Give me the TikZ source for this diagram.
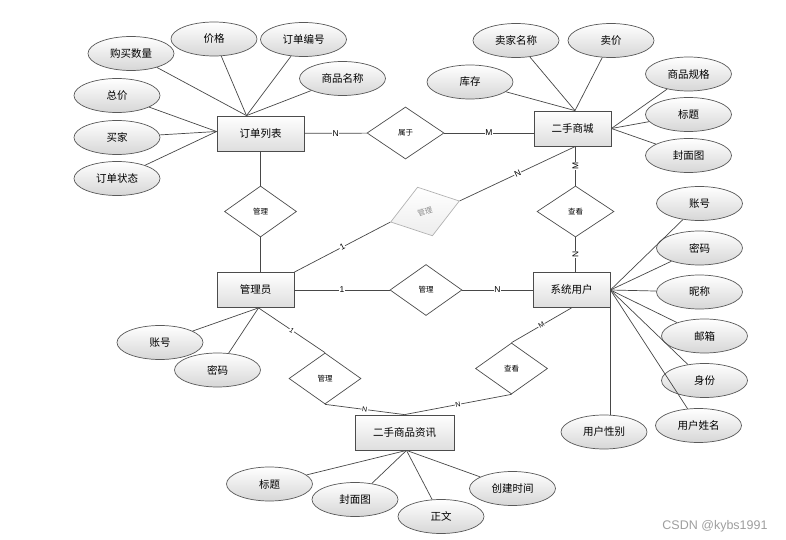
\documentclass[tikz,border=0pt]{standalone}
\usepackage{fontspec}
\setmainfont{Noto Sans CJK SC}
\newfontfamily\latf{Liberation Sans}
\usetikzlibrary{shapes.geometric,calc}
\begin{document}
\begin{tikzpicture}[x=1pt,y=-1pt,
  conn/.style={draw=black!72, line width=0.7pt},
  entity/.style={draw=black!70, line width=0.8pt, top color=white, bottom color=black!13,
    minimum width=77pt, minimum height=35pt, inner sep=0pt, font=\fontsize{10.5}{12}\selectfont},
  attr/.style={ellipse, draw=black!65, line width=0.7pt, top color=white, bottom color=black!16,
    minimum width=86pt, minimum height=34pt, inner sep=0pt, font=\fontsize{10.5}{12}\selectfont},
  rel/.style={diamond, draw=black!70, line width=0.7pt, fill=white,
    minimum width=72pt, minimum height=51pt, inner sep=0pt, font=\fontsize{7.5}{9}\selectfont},
  card/.style={fill=white, inner sep=0.6pt, font=\latf\fontsize{8.5}{9}\selectfont}
]
\useasboundingbox (0,0) rectangle (786,540);

% entities
\node[entity, minimum width=87pt] (ddl) at (260.5,133.5) {订单列表};
\node[entity] (sc) at (572.5,128.5) {二手商城};
\node[entity] (gly) at (255.5,290) {管理员};
\node[entity] (xt) at (571.5,290) {系统用户};
\node[entity, minimum width=99pt] (zx) at (404.5,432.5) {二手商品资讯};

% relations
\node[rel, minimum width=77pt, minimum height=52pt] (sy) at (405.5,133) {属于};
\node[rel] (gl1) at (260.5,211.5) {管理};
\node[rel, draw=black!30, top color=white, bottom color=black!7, text=black!45, rotate=17] (gl2) at (425,211.5) {管理};
\node[rel] (gl3) at (426,290) {管理};
\node[rel, minimum width=77pt] (ck1) at (575.5,211.5) {查看};
\node[rel] (gl4) at (325,378.5) {管理};
\node[rel] (ck2) at (511.5,368.5) {查看};

% relation connectors
\draw[conn] (ddl) -- node[card]{N} (sy);
\draw[conn] (sy.east) -- node[card]{M} (sy.east -| sc.west);
\draw[conn] (ddl) -- (gl1);
\draw[conn] (gl1) -- (gl1 |- gly.north);
\draw[conn] (gly) -- node[card]{1} (gl3);
\draw[conn] (gl3) -- node[card]{N} (xt);
\draw[conn] (sc.south -| ck1) -- node[card, rotate=90]{M} (ck1.north);
\draw[conn] (ck1.south) -- node[card, rotate=90]{N} (ck1.south |- xt.north);
\draw[conn] (sc.south -| ck1) -- node[card, sloped]{N} (gl2.east);
\draw[conn] (gl2.west) -- node[card, sloped]{1} (gly.north east);
\coordinate (glyB) at ($(gly.south)+(3,0)$);
\draw[conn] (glyB) -- node[card, sloped, font=\latf\fontsize{7}{8}\selectfont]{1} (gl4.north);
\draw[conn] (ck2.north) -- node[card, sloped, font=\latf\fontsize{7}{8}\selectfont]{M} (xt.south);
\draw[conn] (gl4.south) -- node[card, sloped, font=\latf\fontsize{7}{8}\selectfont]{N} (zx.north);
\draw[conn] (ck2.south) -- node[card, sloped, font=\latf\fontsize{7}{8}\selectfont]{N} (zx.north);

% attributes of 订单列表
\node[attr] (a1) at (131,53.5) {购买数量};
\node[attr] (a2) at (214,39) {价格};
\node[attr] (a3) at (303.5,39.5) {订单编号};
\node[attr] (a4) at (342.5,78.5) {商品名称};
\node[attr] (a5) at (117,95.5) {总价};
\node[attr] (a6) at (117,137.5) {买家};
\node[attr] (a7) at (117,178.5) {订单状态};
\coordinate (ddlT) at ($(ddl.north)+(-14,0)$);
\coordinate (ddlL) at ($(ddl.west)+(0,-2)$);
\foreach \n in {a1,a2,a3,a4} \draw[conn] (\n) -- (ddlT);
\foreach \n in {a5,a6,a7} \draw[conn] (\n) -- (ddlL);

% attributes of 二手商城
\node[attr] (b1) at (516,40.5) {卖家名称};
\node[attr] (b2) at (611,40.5) {卖价};
\node[attr] (b3) at (470,82) {库存};
\node[attr] (b4) at (688.5,74) {商品规格};
\node[attr] (b5) at (688.5,114.5) {标题};
\node[attr] (b6) at (688.5,155.5) {封面图};
\coordinate (scT) at ($(sc.north)+(2.5,0)$);
\foreach \n in {b1,b2,b3} \draw[conn] (\n) -- (scT);
\foreach \n in {b4,b5,b6} \draw[conn] (\n) -- (sc.east);

% attributes of 系统用户
\node[attr] (c1) at (699.5,203.5) {账号};
\node[attr] (c2) at (699.5,248) {密码};
\node[attr] (c3) at (699.5,292) {昵称};
\node[attr] (c4) at (704.5,336) {邮箱};
\node[attr] (c5) at (704.5,380.5) {身份};
\node[attr] (c6) at (698.5,425.5) {用户姓名};
\node[attr] (c7) at (604,432) {用户性别};
\foreach \n in {c1,c2,c3,c4,c5,c6} \draw[conn] (\n) -- (xt.east);
\draw[conn] (xt.east) -- (xt.east |- c7.north);

% attributes of 管理员
\node[attr] (d1) at (160,342.5) {账号};
\node[attr] (d2) at (217.5,370) {密码};
\foreach \n in {d1,d2} \draw[conn] (\n) -- (glyB);

% attributes of 二手商品资讯
\node[attr] (e1) at (269.5,484) {标题};
\node[attr] (e2) at (355,499.5) {封面图};
\node[attr] (e3) at (441,516.5) {正文};
\node[attr] (e4) at (512.5,488.5) {创建时间};
\coordinate (zxB) at ($(zx.south)+(2,0)$);
\foreach \n in {e1,e2,e3,e4} \draw[conn] (\n) -- (zxB);

% watermark
\node[text=black!38, font=\latf\fontsize{12.5}{13}\selectfont] (wm) at (715,526) {CSDN @kybs1991};
\end{tikzpicture}
\end{document}
